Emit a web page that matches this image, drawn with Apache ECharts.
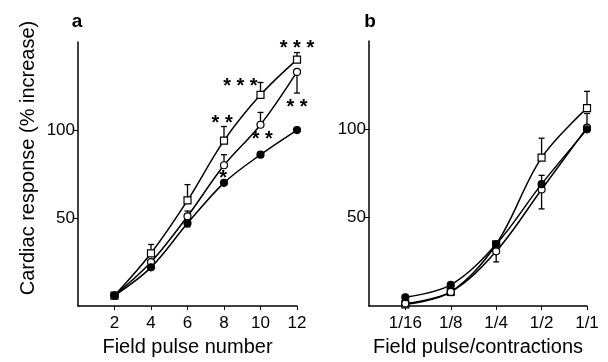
<!DOCTYPE html>
<html>
<head>
<meta charset="utf-8">
<script src="https://cdn.jsdelivr.net/npm/echarts@6/dist/echarts.min.js"></script>
<style>
  html, body { margin: 0; padding: 0; background: #fff; }
  #chart { width: 608px; height: 362px; }
</style>
</head>
<body>
<div id="chart"></div>
<script>
// panel a: field pulse number
const pulseA = [2, 4, 6, 8, 10, 12];
const ctrlA = [6, 22, 47, 70, 86, 100];
const circA = [6, 25, 51, 80, 103, 133];
const sqA = [6, 30, 60, 94, 120, 140];
// error bars [x, mean, end]
const errA = [[4, 30, 35], [6, 60, 69], [8, 94, 102], [10, 120, 127], [12, 140, 144],
  [6, 51, 54], [8, 80, 86], [10, 103, 110], [12, 133, 121], [6, 47, 45]];
// significance marks [x, y, text]
const starsA = [[12, 150, '* * *'], [8.9, 128, '* * *'], [7.9, 107, '* *'],
  [10.1, 98, '* *'], [12, 116, '* *'], [7.95, 76, '*']];

// panel b: field pulse/contractions (log2 position)
const ratioB = [-4, -3, -2, -1, 0];
const ratioLabels = ['1/16', '1/8', '1/4', '1/2', '1/1'];
const ctrlB = [5, 12, 35, 69, 100];
const circB = [1.5, 8, 31, 66, 101];
const sqB = [1, 8, 35, 84, 112];
const errB = [[-1, 84, 95], [0, 112, 121.5], [-1, 66, 55], [-1, 69, 74],
  [0, 101, 109], [-2, 31, 25], [-3, 8, 6]];

const font = 'Liberation Sans';
let chart = echarts.init(document.getElementById('chart'));

function pairs(xs, ys) {
  return xs.map((x, i) => [x, ys[i]]);
}

function lineSeries(idx, xs, ys, symbol, filled) {
  return {
    type: 'line',
    xAxisIndex: idx,
    yAxisIndex: idx,
    data: pairs(xs, ys),
    smooth: 0.35,
    symbol: symbol,
    symbolSize: 7,
    showAllSymbol: true,
    z: filled ? 4 : 3,
    lineStyle: {color: '#000', width: 1.5},
    itemStyle: {color: filled ? '#000' : '#fff', borderColor: '#000', borderWidth: 1.2}
  };
}

function errSeries(idx, data) {
  return {
    type: 'custom',
    xAxisIndex: idx,
    yAxisIndex: idx,
    data: data,
    z: 2,
    renderItem: function (params, api) {
      const a = api.coord([api.value(0), api.value(1)]);
      const b = api.coord([api.value(0), api.value(2)]);
      const style = {stroke: '#000', lineWidth: 1.3};
      return {
        type: 'group',
        children: [
          {type: 'line', shape: {x1: a[0], y1: a[1], x2: b[0], y2: b[1]}, style: style},
          {type: 'line', shape: {x1: b[0] - 3, y1: b[1], x2: b[0] + 3, y2: b[1]}, style: style}
        ]
      };
    }
  };
}

function starSeries(idx, data) {
  return {
    type: 'custom',
    xAxisIndex: idx,
    yAxisIndex: idx,
    data: data,
    renderItem: function (params, api) {
      const p = api.coord([api.value(0), api.value(1)]);
      return {
        type: 'text',
        x: p[0],
        y: p[1] + 6,
        style: {
          text: data[params.dataIndex][2],
          fill: '#000',
          font: 'bold 20px ' + font,
          align: 'center',
          verticalAlign: 'middle'
        }
      };
    }
  };
}

const axisLine = {show: true, onZero: false, lineStyle: {color: '#000', width: 1.5}};
const tickLabel = {color: '#000', fontFamily: font, fontSize: 17};

chart.setOption({
  animation: false,
  grid: [
    {left: 78, top: 42, width: 219, height: 270},
    {left: 369, top: 41, width: 218, height: 271}
  ],
  xAxis: [{
    gridIndex: 0, type: 'value', min: 0, max: 12, interval: 2,
    name: 'Field pulse number', nameLocation: 'middle', nameGap: 24,
    nameTextStyle: {color: '#000', fontFamily: font, fontSize: 20},
    axisLine: axisLine, splitLine: {show: false},
    axisTick: {show: true, customValues: [2, 4, 6, 8, 10, 12], length: 4, lineStyle: {color: '#000'}},
    axisLabel: Object.assign({customValues: [2, 4, 6, 8, 10, 12], margin: 9}, tickLabel)
  }, {
    gridIndex: 1, type: 'value', min: -4.8, max: 0,
    name: 'Field pulse/contractions', nameLocation: 'middle', nameGap: 24,
    nameTextStyle: {color: '#000', fontFamily: font, fontSize: 20},
    axisLine: axisLine, splitLine: {show: false},
    axisTick: {show: true, customValues: ratioB, length: 4, lineStyle: {color: '#000'}},
    axisLabel: Object.assign({
      customValues: ratioB, margin: 9,
      formatter: (v) => ratioLabels[ratioB.indexOf(Math.round(v))]
    }, tickLabel)
  }],
  yAxis: [0, 1].map((i) => ({
    gridIndex: i, type: 'value', min: 0, max: 150, interval: 50,
    axisLine: axisLine, splitLine: {show: false},
    axisTick: {show: true, customValues: [50, 100], length: 4, lineStyle: {color: '#000'}},
    axisLabel: Object.assign({customValues: [50, 100], margin: 3}, tickLabel)
  })),
  graphic: [
    {type: 'text', x: 28, y: 158, rotation: Math.PI / 2,
      style: {text: 'Cardiac response (% increase)', font: '20px ' + font, fill: '#000',
        align: 'center', verticalAlign: 'middle'}},
    {type: 'text', x: 77, y: 22, style: {text: 'a', font: 'bold 19px ' + font, fill: '#000',
      align: 'center', verticalAlign: 'middle'}},
    {type: 'text', x: 370, y: 22, style: {text: 'b', font: 'bold 19px ' + font, fill: '#000',
      align: 'center', verticalAlign: 'middle'}}
  ],
  series: [
    errSeries(0, errA),
    lineSeries(0, pulseA, ctrlA, 'circle', true),
    lineSeries(0, pulseA, circA, 'circle', false),
    lineSeries(0, pulseA, sqA, 'rect', false),
    starSeries(0, starsA),
    errSeries(1, errB),
    lineSeries(1, ratioB, sqB, 'rect', false),
    lineSeries(1, ratioB, circB, 'circle', false),
    lineSeries(1, ratioB, ctrlB, 'circle', true)
  ]
});
</script>
</body>
</html>
